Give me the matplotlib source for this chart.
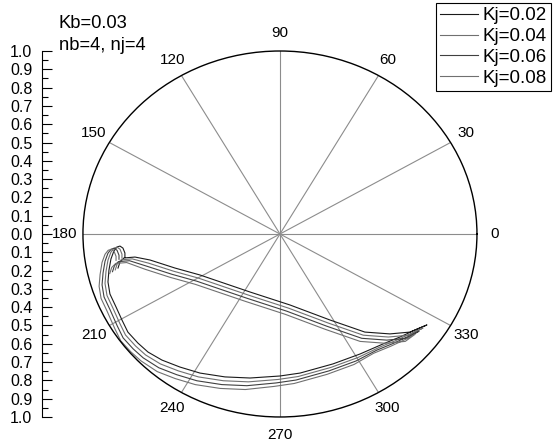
import numpy as np
import matplotlib.pyplot as plt
from matplotlib.ticker import MultipleLocator, FuncFormatter

plt.rcParams['font.family'] = ['Liberation Sans', 'DejaVu Sans']

# locus components (horizontal, vertical) for each Kj, Kb=0.03, nb=nj=4
kj_labels = ['Kj=0.02', 'Kj=0.04', 'Kj=0.06', 'Kj=0.08']
line_colors = ['#1a1a1a', '#707070', '#404040', '#707070']

ex_02 = [-0.822, -0.812, -0.792, -0.736, -0.660, -0.533, -0.406, -0.152, 0.051, 0.254,
         0.431, 0.558, 0.660, 0.746, 0.685, 0.609, 0.523, 0.406, 0.269, 0.102,
         0.000, -0.152, -0.279, -0.406, -0.508, -0.599, -0.670, -0.721, -0.772, -0.802,
         -0.832, -0.863, -0.873, -0.868, -0.858, -0.843, -0.827, -0.812, -0.797, -0.787, -0.787]
ey_02 = [-0.186, -0.153, -0.131, -0.126, -0.142, -0.186, -0.224, -0.317, -0.388, -0.470,
         -0.536, -0.546, -0.536, -0.497, -0.525, -0.563, -0.601, -0.656, -0.710, -0.760,
         -0.776, -0.787, -0.781, -0.760, -0.727, -0.689, -0.645, -0.596, -0.536, -0.470,
         -0.399, -0.328, -0.262, -0.197, -0.137, -0.093, -0.071, -0.066, -0.077, -0.104, -0.126]

ex_04 = [-0.836, -0.826, -0.806, -0.750, -0.668, -0.541, -0.414, -0.160, 0.043, 0.246,
         0.423, 0.550, 0.652, 0.726, 0.669, 0.593, 0.507, 0.396, 0.259, 0.092,
         -0.010, -0.160, -0.287, -0.414, -0.516, -0.607, -0.682, -0.733, -0.784, -0.814,
         -0.847, -0.878, -0.888, -0.883, -0.873, -0.858, -0.842, -0.827, -0.812, -0.802, -0.802]
ey_04 = [-0.196, -0.163, -0.141, -0.136, -0.159, -0.203, -0.241, -0.334, -0.405, -0.487,
         -0.553, -0.563, -0.553, -0.514, -0.542, -0.580, -0.618, -0.675, -0.729, -0.779,
         -0.795, -0.808, -0.802, -0.781, -0.748, -0.710, -0.661, -0.612, -0.552, -0.486,
         -0.407, -0.336, -0.270, -0.205, -0.143, -0.099, -0.077, -0.072, -0.083, -0.110, -0.132]

ex_06 = [-0.850, -0.840, -0.820, -0.764, -0.676, -0.549, -0.422, -0.168, 0.035, 0.238,
         0.415, 0.542, 0.644, 0.706, 0.653, 0.577, 0.491, 0.386, 0.249, 0.082,
         -0.020, -0.168, -0.295, -0.422, -0.524, -0.615, -0.694, -0.745, -0.796, -0.826,
         -0.862, -0.893, -0.903, -0.898, -0.888, -0.873, -0.857, -0.842, -0.827, -0.817, -0.817]
ey_06 = [-0.206, -0.173, -0.151, -0.146, -0.176, -0.220, -0.258, -0.351, -0.422, -0.504,
         -0.570, -0.580, -0.570, -0.531, -0.559, -0.597, -0.635, -0.694, -0.748, -0.798,
         -0.814, -0.829, -0.823, -0.802, -0.769, -0.731, -0.677, -0.628, -0.568, -0.502,
         -0.415, -0.344, -0.278, -0.213, -0.149, -0.105, -0.083, -0.078, -0.089, -0.116, -0.138]

ex_08 = [-0.864, -0.854, -0.834, -0.778, -0.684, -0.557, -0.430, -0.176, 0.027, 0.230,
         0.407, 0.534, 0.636, 0.686, 0.637, 0.561, 0.475, 0.376, 0.239, 0.072,
         -0.030, -0.176, -0.303, -0.430, -0.532, -0.623, -0.706, -0.757, -0.808, -0.838,
         -0.877, -0.908, -0.918, -0.913, -0.903, -0.888, -0.872, -0.857, -0.842, -0.832, -0.832]
ey_08 = [-0.216, -0.183, -0.161, -0.156, -0.193, -0.237, -0.275, -0.368, -0.439, -0.521,
         -0.587, -0.597, -0.587, -0.548, -0.576, -0.614, -0.652, -0.713, -0.767, -0.817,
         -0.833, -0.850, -0.844, -0.823, -0.790, -0.752, -0.693, -0.644, -0.584, -0.518,
         -0.423, -0.352, -0.286, -0.221, -0.155, -0.111, -0.089, -0.084, -0.095, -0.122, -0.144]

ex_all = [ex_02, ex_04, ex_06, ex_08]
ey_all = [ey_02, ey_04, ey_06, ey_08]

fig = plt.figure(figsize=(5.53, 4.42), dpi=100)
ax = fig.add_axes([0.150, 0.0566, 0.7125, 0.828], projection='polar')
ax.set_aspect('auto')

for ex, ey, c, lab in zip(ex_all, ey_all, line_colors, kj_labels):
    ex = np.asarray(ex)
    ey = np.asarray(ey)
    ax.plot(np.arctan2(ey, ex), np.hypot(ex, ey), color=c, lw=0.8, label=lab)

ax.set_ylim(0, 1)
ax.set_yticks([])
ax.set_xticks(np.deg2rad(np.arange(0, 360, 30)))
ax.set_xticklabels([str(d) for d in range(0, 360, 30)])
ax.set_xticks(np.deg2rad(np.arange(15, 360, 30)), minor=True)
ax.xaxis.grid(True, color='#8c8c8c', lw=0.8)
ax.tick_params(axis='x', which='both', direction='in', length=5, width=0.8,
               labelsize=11, pad=6)
ax.spines['polar'].set_linewidth(1.0)

# radial scale on the left
ax_r = fig.add_axes([42 / 553, 0.0566, 0.001, 0.828])
ax_r.set_ylim(-1, 1)
for s in ['top', 'right', 'bottom']:
    ax_r.spines[s].set_visible(False)
ax_r.spines['left'].set_linewidth(0.8)
ax_r.set_xticks([])
ax_r.patch.set_visible(False)
ax_r.yaxis.set_major_locator(MultipleLocator(0.1))
ax_r.yaxis.set_minor_locator(MultipleLocator(0.05))
ax_r.yaxis.set_major_formatter(FuncFormatter(lambda v, p: '%.1f' % abs(v)))
ax_r.tick_params(axis='y', which='major', direction='in', length=7, width=0.8,
                 labelsize=11.5, pad=7)
ax_r.tick_params(axis='y', which='minor', direction='in', length=4, width=0.8)

fig.text(59 / 553, 1 - 24 / 442, 'Kb=0.03', va='center', fontsize=13.2)
fig.text(59 / 553, 1 - 46 / 442, 'nb=4, nj=4', va='center', fontsize=13.2)

leg = fig.legend(loc='upper right', bbox_to_anchor=(551 / 553, 1 - 3 / 442),
                 fontsize=13.5, handlelength=2.0, handletextpad=0.27,
                 labelspacing=0.2, borderpad=0.22, borderaxespad=0,
                 fancybox=False, edgecolor='black', framealpha=1)
leg.get_frame().set_linewidth(0.8)

fig.savefig('out.png', dpi=100)
